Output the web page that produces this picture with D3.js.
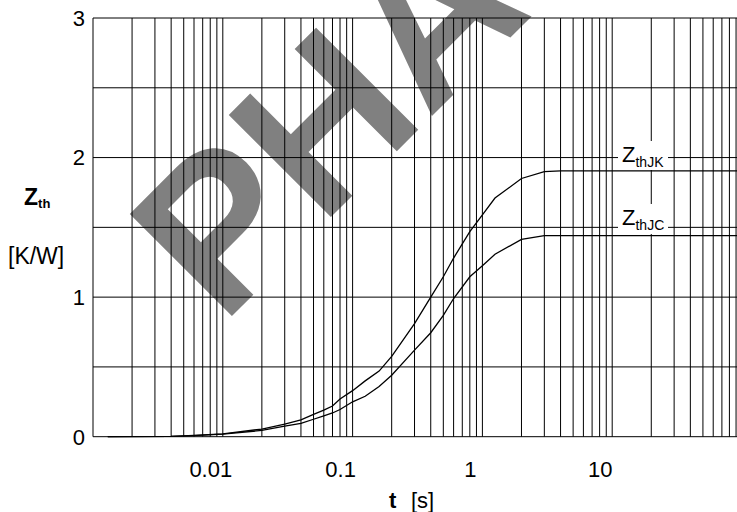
<!DOCTYPE html>
<html lang="en">

<head>
    <meta charset="utf-8">
    <title>Transient thermal impedance</title>
    <script src="https://d3js.org/d3.v7.min.js"></script>
    <style>
        body { margin: 0; background: #fff; }
        text { font-family: "Liberation Sans", Arial, sans-serif; fill: #000; }
    </style>
</head>

<body>
    <svg width="737" height="512"></svg>

    <script>
        // pulse time t [s]
        const times = [0.0013, 0.004, 0.006, 0.01, 0.02, 0.03, 0.04, 0.05, 0.06, 0.07, 0.08, 0.1, 0.125, 0.16,
            0.2, 0.3, 0.4, 0.5, 0.6, 0.8, 1, 1.25, 2, 3, 4, 100];
        // Z thJK [K/W]
        const zthJK = [0, 0.003, 0.01, 0.02, 0.055, 0.09, 0.12, 0.16, 0.19, 0.22, 0.27, 0.33, 0.40, 0.47,
            0.575, 0.81, 1.0, 1.146, 1.28, 1.47, 1.59, 1.71, 1.85, 1.90, 1.905, 1.905];
        // Z thJC [K/W]
        const zthJC = [0, 0.003, 0.008, 0.018, 0.045, 0.075, 0.095, 0.125, 0.15, 0.17, 0.195, 0.25, 0.29, 0.36,
            0.44, 0.62, 0.745, 0.87, 0.99, 1.146, 1.225, 1.307, 1.414, 1.44, 1.44, 1.44];

        const xTickValues = [0.01, 0.1, 1, 10];
        const xTickLabels = ["0.01", "0.1", "1", "10"];
        const yTickValues = [0, 1, 2, 3];

        const svg = d3.select("svg");

        const x = d3.scaleLog().domain([0.001, 100]).range([93, 742]);
        const y = d3.scaleLinear().domain([0, 3]).range([436.7, 18]);

        // watermark, sits under the grid
        svg.append("text")
            .attr("transform", "translate(222,326) rotate(-45)")
            .attr("font-size", 210)
            .attr("font-weight", "bold")
            .style("fill", "#808080")
            .text("PHA");

        // grid
        const grid = svg.append("g")
            .attr("stroke", "#000")
            .attr("stroke-width", 1);

        grid.selectAll("line.v")
            .data(x.ticks())
            .join("line")
            .attr("class", "v")
            .attr("x1", d => x(d))
            .attr("x2", d => x(d))
            .attr("y1", y(3))
            .attr("y2", y(0));

        grid.selectAll("line.h")
            .data(y.ticks(6))
            .join("line")
            .attr("class", "h")
            .attr("x1", x(0.001))
            .attr("x2", x(100))
            .attr("y1", d => y(d))
            .attr("y2", d => y(d));

        // white patches behind the curve names
        const labels = [
            { sub: "thJK", x: 622, y: 162, box: [618, 141, 50, 29] },
            { sub: "thJC", x: 622, y: 225, box: [618, 204, 50, 30] }
        ];
        svg.selectAll("rect.lbl")
            .data(labels)
            .join("rect")
            .attr("class", "lbl")
            .attr("x", d => d.box[0])
            .attr("y", d => d.box[1])
            .attr("width", d => d.box[2])
            .attr("height", d => d.box[3])
            .attr("fill", "#fff");

        // curves
        const line = d3.line()
            .x(d => x(d[0]))
            .y(d => y(d[1]));

        [zthJK, zthJC].forEach(series => {
            svg.append("path")
                .datum(times.map((t, i) => [t, series[i]]))
                .attr("fill", "none")
                .attr("stroke", "#000")
                .attr("stroke-width", 1.3)
                .attr("d", line);
        });

        const lbl = svg.selectAll("text.name")
            .data(labels)
            .join("text")
            .attr("class", "name")
            .attr("x", d => d.x)
            .attr("y", d => d.y)
            .attr("font-size", 22);
        lbl.append("tspan").text("Z");
        lbl.append("tspan")
            .attr("font-size", 14)
            .attr("dy", 5)
            .text(d => d.sub);

        // tick labels
        svg.selectAll("text.yt")
            .data(yTickValues)
            .join("text")
            .attr("class", "yt")
            .attr("x", 85)
            .attr("y", d => y(d))
            .attr("dy", "0.36em")
            .attr("text-anchor", "end")
            .attr("font-size", 22)
            .text(d => d);

        svg.selectAll("text.xt")
            .data(xTickValues)
            .join("text")
            .attr("class", "xt")
            .attr("x", d => x(d) - 12)
            .attr("y", 477)
            .attr("text-anchor", "middle")
            .attr("font-size", 22)
            .text((d, i) => xTickLabels[i]);

        // axis titles
        svg.append("text")
            .attr("x", 389)
            .attr("y", 508)
            .attr("font-size", 22)
            .attr("font-weight", "bold")
            .text("t");
        svg.append("text")
            .attr("x", 411)
            .attr("y", 508)
            .attr("font-size", 22)
            .text("[s]");

        const yt = svg.append("text")
            .attr("x", 24)
            .attr("y", 205)
            .attr("font-size", 23)
            .attr("font-weight", "bold");
        yt.append("tspan").text("Z");
        yt.append("tspan").attr("font-size", 13).attr("dy", 3).text("th");

        svg.append("text")
            .attr("x", 8)
            .attr("y", 264)
            .attr("font-size", 23)
            .text("[K/W]");
    </script>
</body>

</html>
